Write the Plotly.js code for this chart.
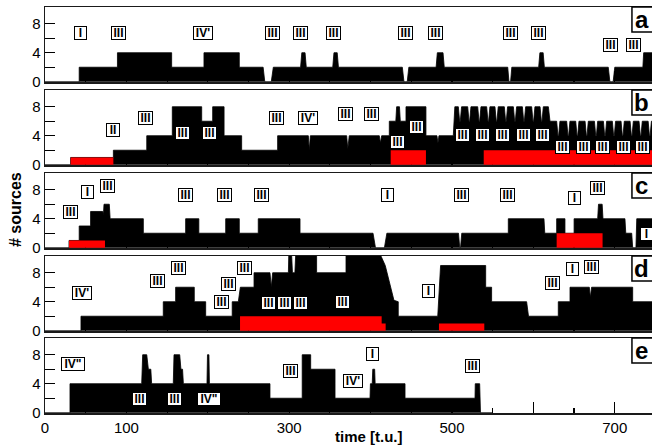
<!DOCTYPE html>
<html><head><meta charset="utf-8">
<script src="https://cdn.plot.ly/plotly-3.0.1.min.js"></script>
<style>html,body{margin:0;padding:0;overflow:hidden;background:#fff}#chart{width:693px;height:446px}</style>
</head><body><div id="chart"></div>
<script>
// ---- data: [time, #sources] vertices ----
const ptsA = [[0,0],[42,0],[42,2],[89,2],[89,4],[155.6,4],[155.6,2],[195.3,2],[195.3,4],[238.7,4],[238.7,2],[268,2],[270,0],[278,0],[280.5,2],[314,2],[315.5,4],[319.5,4],[321,2],[353.5,2],[355,4],[359,4],[360.5,2],[439,2],[441,0],[445,0],[447,2],[480.5,2],[482,4],[489,4],[490.5,2],[568.5,2],[570,0],[572,0],[573.5,2],[606.5,2],[608,4],[612,4],[613.5,2],[692,2],[694,0],[698,0],[700,2],[734.5,2],[735.5,4],[800,4]];

const ptsB = [[0,0],[31.5,0],[31.5,1],[84,1],[84,2],[125,2],[125,4],[156.4,4],[156.4,8],[192.5,8],[192.5,6],[206,6],[206,8],[220,8],[220,4],[241.6,4],[241.6,2],[285.8,2],[285.8,4],[323.5,4],[324.7,2],[326,4],[370.6,4],[372,2.2],[373.8,4],[410.7,4],[412,3],[413.6,4],[423,4],[423,6],[431,6],[432,8],[435.5,8],[436.5,6],[443.5,6],[443.5,8],[468,8],[468,4],[481.5,4],[482.8,3],[484,4],[501.6,4],[503.5,8],
 [507.8,8],[509.4,6],[510.2,6],[511.8,8],[519.3,8],[520.9,6],[521.7,6],[523.3,8],[531.6,8],[533.2,6],[534,6],[535.6,8],[542.6,8],[544.2,6],[545,6],[546.6,8],[552.8,8],[554.4,6],[555.2,6],[556.8,8],[564.3,8],[565.9,6],[566.7,6],[568.3,8],[575.4,8],[577,6],[577.8,6],[579.4,8],[586.5,8],[588.1,6],[588.9,6],[590.5,8],[597.9,8],[599.5,6],[600.3,6],[601.9,8],[608.2,8],[609.8,6],[610.6,6],[612.2,8],[618.4,8],[620.4,6],
 [628.6,6],[630.2,4],[631,4],[632.6,6],[640.9,6],[642.5,4],[643.3,4],[644.9,6],[652,6],[653.6,4],[654.4,4],[656,6],[663.5,6],[665.1,4],[665.9,4],[667.5,6],[675,6],[676.6,4],[677.4,4],[679,6],[686,6],[687.6,4],[688.4,4],[690,6],[697,6],[698.6,4],[699.4,4],[701,6],[707.7,6],[709.3,4],[710.1,4],[711.7,6],[718.8,6],[720.4,4],[721.2,4],[722.8,6],[729.8,6],[731.4,4],[732.2,4],[733.8,6],[741,6],[742.6,4],[743.4,4],[745,6],[752,6],[753.6,4],[754.4,4],[756,6],[763,6],[764.6,4],[765.4,4],[767,6],[774,6],[775.6,4],[776.4,4],[778,6],[785,6],[786.6,4],[787.4,4],[789,6],[800,6]];
const redB = [[31.5,0],[31.5,1],[84,1],[84,0],[424.7,0],[424.7,2],[468,2],[468,0],[539,0],[539,2],[800,2]];

const ptsC = [[0,0],[29.5,0],[29.5,1],[42,1],[42,3],[56,3],[56,5],[70.9,5],[71.8,4.6],[72.5,6],[79,6],[80,4],[120.8,4],[120.8,2],[172.8,2],[172.8,4],[189,4],[189,2],[222,2],[222,4],[238.7,4],[238.7,2],[262,2],[262,4],[313.3,4],[313.3,2],[403,2],[406,0],[417,0],[420,2],[508,2],[509.5,0],[510.5,0],[512,2],[569.2,2],[569.2,4],[613,4],[614,2],[628.6,2],[628.6,4],[638.8,4],[638.8,2],[650,2],[650,4],[679,4],[680,6],[684.5,6],[685.5,4],[712.5,4],[713.5,2],[720.8,2],[722,0],[726,0],[727,4],[800,4]];
const redC = [[29.5,0],[29.5,1],[73.7,1],[73.7,0],[628.6,0],[628.6,2],[685,2],[685,0]];

const ptsD = [[0,0],[44.2,0],[44.2,2],[145.3,2],[145.3,4],[160.5,4],[160.5,6],[183.4,6],[183.4,4],[197.4,4],[197.4,2],[230,2],[230,4],[237.5,4],[240,6],[256.8,6],[256.8,8],[276.4,8],[278,6],[279.7,8],[299,8],[299.5,10.5],[303,10.5],[304,8],[307,8],[308,10.5],[333.7,10.5],[333.7,8],[369.8,8],[369.8,10.5],[412,10.5],[418,9],[428.7,4.2],[434,4],[434,2],[482.5,2],[486,9],[541.4,9],[541.4,6],[548.7,6],[548.7,4],[591.7,4],[594,2],[630.6,2],[630.6,4],[645,4],[645,6],[668.7,6],[670,4.6],[671.5,6],[722,6],[722,4],[800,4]];
const redD = [[239.6,0],[239.6,2],[413.6,2],[413.6,1],[418.5,1],[418.5,0],[484,0],[484,1],[539.7,1],[539.7,0]];

const ptsE = [[0,0],[30.7,0],[30.7,4],[118.8,4],[120,8],[125,8],[127,6],[130,6],[131,4],[157.6,4],[158.5,8],[165.5,8],[167,6],[169,6],[170,4],[199,4],[199.6,8],[201.4,8],[202,4],[276.4,4],[276.4,2],[316,2],[316,8],[326.4,8],[326.4,6],[356.3,6],[356.3,2],[399.3,2],[399.8,4],[402,4],[402.7,6],[405,6],[405.6,4],[442.3,4],[442.3,2],[528.3,2],[528.6,4],[534,4],[535,0],[550,0]];

// ---- box labels: [text, time, level] ----
const labA = [['I',43,6.75],['III',89.7,6.75],["IV'",194.1,6.75],['III',278.9,6.75],['III',313.3,6.75],['III',355,6.75],['III',442.3,6.75],['III',480,6.75],['III',571.3,6.75],['III',605.7,6.75],['III',695.3,5.09],['III',722.4,5.09]];
const labB = [['II',83.9,4.78],['III',123.7,6.38],['III',169.2,4.44],['III',201.8,4.44],['III',284.6,6.5],["IV'",323.5,6.5],['III',368.6,6.98],['III',401.4,6.98],['III',432.8,3.2],['III',455.8,5.27],['III',512.7,4.13],['III',537.2,4.13],['III',561.8,4.13],['III',587.6,4.13],['III',611.4,4.13],['III',636,2.51],['III',661.3,2.51],['III',685.1,2.51],['III',710.4,2.51],['III',734.3,2.51]];
const labC = [['III',31.6,4.86],['I',52,7.62],['III',76.5,8.54],['III',172,7.3],['III',221.1,7.3],['III',266.2,7.3],['I',420.5,7.3],['III',511.9,7.3],['III',568.4,7.3],['I',651.1,6.85],['III',679,8.23],['I',739.2,1.88]];
const labD = [["IV'",45.1,5.2],['III',138.5,6.82],['III',163.8,8.65],['III',225.2,6.45],['III',245.7,8.65],['III',217.1,3.96],['III',274.3,3.82],['III',294,3.82],['III',314.5,3.82],['III',365.7,3.96],['I',470.9,5.53],['III',623.7,6.58],['I',647.8,8.57],['III',671.6,8.75]];
const labE = [['IV"',34,6.79],['III',116.7,1.88],['III',158.5,1.88],['IV"',201.8,1.88],['III',302.2,5.69],['I',402.1,8.17],["IV'",378.7,4.31],['III',525.4,6.47]];

const panelLetters = ['a','b','c','d','e'];
const xTickVals = [0,100,200,300,400,500,600,700];
const xTickText = ['0','100','','300','','500','','700'];
const yTickVals = [0,2,4,6,8];
const yTickText = ['0','','4','','8'];

// ---- build ----
const panels = [
  {pts: ptsA, red: null, labels: labA},
  {pts: ptsB, red: redB, labels: labB},
  {pts: ptsC, red: redC, labels: labC},
  {pts: ptsD, red: redD, labels: labD},
  {pts: ptsE, red: null, labels: labE}
];
const tops = [7, 90, 173, 256, 338];
const PH = 75, H = 446;
const FONT = 'Liberation Sans, Arial, Helvetica, sans-serif';
const boxW = {'I':11,'II':12,'III':13,"IV'":18,'IV"':22};

const traces = [];
const layout = {
  width: 693, height: 446,
  margin: {l:45, r:0, t:0, b:0},
  paper_bgcolor:'#fff', plot_bgcolor:'#fff',
  showlegend: false,
  font: {family: FONT, color:'#000'},
  annotations: [], shapes: []
};

panels.forEach((p, i) => {
  const sfx = i === 0 ? '' : String(i+1);
  const xa = 'x'+sfx, ya = 'y'+sfx;
  traces.push({
    x: p.pts.map(d => d[0]), y: p.pts.map(d => d[1]),
    xaxis: xa, yaxis: ya, type:'scatter', mode:'lines',
    fill:'tozeroy', fillcolor:'#000', line:{color:'#000', width:0.8}, hoverinfo:'skip'
  });
  if (p.red) traces.push({
    x: p.red.map(d => d[0]), y: p.red.map(d => d[1]),
    xaxis: xa, yaxis: ya, type:'scatter', mode:'lines',
    fill:'tozeroy', fillcolor:'#ff0000', line:{color:'#ff0000', width:0}, hoverinfo:'skip'
  });
  const top = tops[i];
  layout['xaxis'+sfx] = {
    domain:[0,1], anchor: ya, range:[0,796.1], layer:'below traces',
    showline:true, mirror:true, linecolor:'#1a1a1a', linewidth:1.5,
    ticks:'inside', ticklen:11, tickwidth:1.2, tickcolor:'#000',
    tickmode:'array', tickvals: xTickVals, ticktext: xTickText,
    showticklabels: i === 4, tickfont:{family:FONT, size:15, color:'#000'},
    minor:{ticks:'inside', ticklen:5, tickwidth:1.2, tickcolor:'#000', tick0:0, dtick:50, showgrid:false},
    showgrid:false, zeroline:false, fixedrange:true
  };
  layout['yaxis'+sfx] = {
    domain:[1-(top+PH)/H, 1-top/H], anchor: xa, range:[-0.04,10.31], layer:'below traces',
    showline:true, mirror:true, linecolor:'#1a1a1a', linewidth:1.5,
    ticks:'inside', ticklen:10, tickwidth:1.2, tickcolor:'#000',
    tickmode:'array', tickvals: yTickVals, ticktext: yTickText,
    tickfont:{family:FONT, size:15, color:'#000'},
    showgrid:false, zeroline:false, fixedrange:true
  };
  p.labels.forEach(l => {
    layout.annotations.push({
      text:'<b>'+l[0]+'</b>', x:l[1], y:l[2], xref:xa, yref:ya,
      showarrow:false, font:{family:FONT, size:12, color:'#000'},
      bgcolor:'#fff', bordercolor:'#000', borderwidth:1, borderpad:0,
      width: boxW[l[0]], height:12, align:'center', valign:'middle'
    });
  });
  // panel letter box
  layout.shapes.push({type:'rect', xref:xa, yref: ya+' domain', x0:721.1, x1:752, y0:1-25/PH, y1:1,
    line:{color:'#000', width:1.5}, fillcolor:'#fff', layer:'above'});
  layout.annotations.push({text:'<b>'+panelLetters[i]+'</b>', xref:xa, yref:ya+' domain',
    x:733.4, y:1-12.5/PH, xanchor:'center', yanchor:'middle', showarrow:false,
    font:{family:FONT, size:24, color:'#000'}});
});

layout.annotations.push({text:'<b># sources</b>', xref:'paper', yref:'paper',
  x:(15-45)/648, y:1-210/H, textangle:-90, showarrow:false, xanchor:'center', yanchor:'middle',
  font:{family:FONT, size:16, color:'#000'}});
layout.annotations.push({text:'<b>time [t.u.]</b>', xref:'paper', yref:'paper',
  x:(369-45)/648, y:1-436/H, showarrow:false, xanchor:'center', yanchor:'middle',
  font:{family:FONT, size:15, color:'#000'}});

Plotly.newPlot('chart', traces, layout, {displayModeBar:false, staticPlot:true});
</script></body></html>
